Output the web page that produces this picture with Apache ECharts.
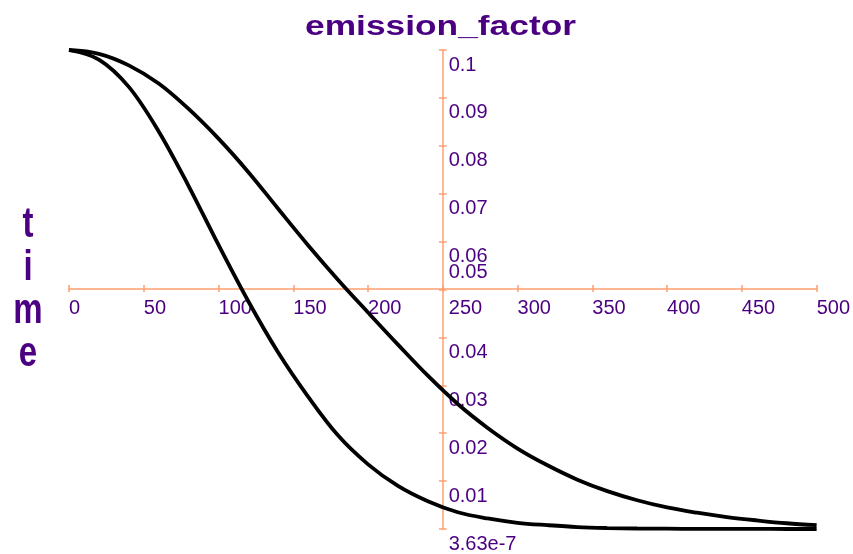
<!DOCTYPE html>
<html>
<head>
<meta charset="utf-8">
<script src="https://cdn.jsdelivr.net/npm/echarts@6/dist/echarts.min.js"></script>
<style>html,body{margin:0;padding:0;background:#fff;}#c{width:853px;height:554px;}</style>
</head>
<body>
<div id="c"></div>
<script>
// ---- data ----
const timeValues = [0,20,40,60,80,100,120,140,160,180,200,220,240,260,280,300,320,340,360,380,400,420,440,460,480,500];
const curveWide = [0.1000,0.0992,0.0968,0.0930,0.0877,0.0815,0.0745,0.0668,0.0592,0.0520,0.0452,0.0385,0.0320,0.0261,0.0211,0.0168,0.0133,0.0103,0.0079,0.0060,0.0045,0.0034,0.0025,0.0018,0.0012,0.0008];
const curveNarrow = [0.1000,0.0980,0.0923,0.0830,0.0716,0.0593,0.0475,0.0368,0.0276,0.0195,0.0135,0.0090,0.0058,0.0035,0.0022,0.0013,0.0008,0.0004,0.0002,0.0001,0.00006,0.00003,0.00002,0.00001,0.000005,0.000002];
const xTicks = {min: 0, max: 500, interval: 50};
const yTicks = {min: 0, max: 0.1, interval: 0.01};
const yMinLabel = '3.63e-7';
const titleText = 'emission_factor';
const yNameText = 't\ni\nm\ne';

const AX = '#FFA070';
const TXT = '#4B0082';
const FF = '"Liberation Sans", Arial, sans-serif';

const chart = echarts.init(document.getElementById('c'), null, {renderer: 'canvas'});

function pair(xs, ys) { return xs.map((x, i) => [x, ys[i]]); }

const yRich = {
  n: {fontSize: 20, lineHeight: 20, color: TXT, fontFamily: FF},
  sp: {fontSize: 20, lineHeight: 30, fontFamily: FF},
  sp2: {fontSize: 20, lineHeight: 35, fontFamily: FF}
};

const option = {
  backgroundColor: '#fff',
  animation: false,
  grid: {left: 69, top: 50, width: 748, height: 480, containLabel: false},
  xAxis: [
    {
      type: 'value', min: xTicks.min, max: xTicks.max, interval: xTicks.interval,
      position: 'bottom', offset: -240,
      axisLine: {show: true, onZero: false, lineStyle: {color: AX, width: 1.5}},
      axisTick: {show: true, length: 3, lineStyle: {color: AX, width: 1.5}},
      splitLine: {show: false},
      axisLabel: {
        color: TXT, fontSize: 20, fontFamily: FF, align: 'left', margin: 9, lineHeight: 20,
        formatter: v => (v === 250 ? '{r|250}' : String(v)),
        rich: {r: {fontSize: 20, lineHeight: 20, color: TXT, fontFamily: FF, padding: [0, 0, 0, 6]}}
      }
    },
    {
      type: 'value', min: xTicks.min, max: xTicks.max, interval: xTicks.interval,
      position: 'top', offset: -240,
      axisLine: {show: false, onZero: false},
      axisTick: {show: true, length: 5, lineStyle: {color: AX, width: 1.5}},
      splitLine: {show: false},
      axisLabel: {show: false}
    }
  ],
  yAxis: [
    {
      type: 'value', min: yTicks.min, max: yTicks.max, interval: yTicks.interval,
      position: 'left', offset: -374,
      axisLine: {show: true, onZero: false, lineStyle: {color: AX, width: 1.5}},
      axisTick: {show: true, length: 4, lineStyle: {color: AX, width: 1.5}},
      splitLine: {show: false},
      axisLabel: {show: false}
    },
    {
      type: 'value', min: yTicks.min, max: yTicks.max, interval: yTicks.interval,
      position: 'right', offset: -374,
      axisLine: {show: false, onZero: false},
      axisTick: {show: true, length: 4, lineStyle: {color: AX, width: 1.5}},
      splitLine: {show: false},
      axisLabel: {
        show: true, margin: 6, align: 'left', verticalAlign: 'middle',
        color: TXT, fontSize: 20, fontFamily: FF,
        formatter: function (v) {
          let s;
          if (Math.abs(v) < 1e-12) s = yMinLabel;
          else s = String(parseFloat(v.toFixed(4)));
          if (Math.abs(v - 0.05) < 1e-9) return '{n|' + s + '}\n{sp2| }';
          return '{sp| }\n{n|' + s + '}';
        },
        rich: yRich
      }
    }
  ],
  graphic: [
    {
      type: 'text', x: 440.5, y: 27, scaleX: 1.262, scaleY: 1,
      style: {text: titleText, fill: TXT, font: 'bold 28px ' + FF, textAlign: 'center', textVerticalAlign: 'middle'}
    },
    {
      type: 'text', x: 28, y: 290, scaleX: 1, scaleY: 1.27,
      style: {text: yNameText, fill: TXT, font: 'bold 33px ' + FF, lineHeight: 34, textAlign: 'center', textVerticalAlign: 'middle'}
    }
  ],
  series: [
    {
      type: 'line', xAxisIndex: 0, yAxisIndex: 0, data: pair(timeValues, curveWide),
      showSymbol: false, smooth: 0.35,
      lineStyle: {color: '#000', width: 3.8}
    },
    {
      type: 'line', xAxisIndex: 0, yAxisIndex: 0, data: pair(timeValues, curveNarrow),
      showSymbol: false, smooth: 0.35,
      lineStyle: {color: '#000', width: 3.8}
    }
  ]
};
chart.setOption(option);
</script>
</body>
</html>
